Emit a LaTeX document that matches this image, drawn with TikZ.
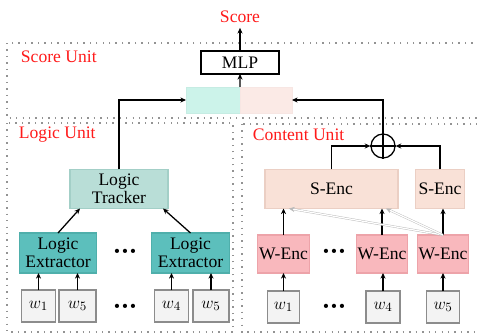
\documentclass[tikz,border=0pt]{standalone}
\usepackage{fontspec}
\setmainfont{Liberation Serif}
\usetikzlibrary{arrows.meta,calc}

\definecolor{unitred}{HTML}{FF1A1A}
\definecolor{trackerfill}{HTML}{B9DED7}
\definecolor{trackerline}{HTML}{A3CFC7}
\definecolor{extractfill}{HTML}{5CBFBC}
\definecolor{extractline}{HTML}{4FAFAB}
\definecolor{catleft}{HTML}{CCF3EA}
\definecolor{catright}{HTML}{FBEAE6}
\definecolor{sencfill}{HTML}{F9E1D7}
\definecolor{sencline}{HTML}{EBCFC4}
\definecolor{wencfill}{HTML}{F9B8BD}
\definecolor{wencline}{HTML}{EDA3A9}
\definecolor{wordfill}{HTML}{F3F3F3}
\definecolor{wordline}{HTML}{8C8C8C}

\tikzset{
  unitbox/.style={draw=gray!85, line width=1pt, dash pattern=on 1pt off 3.6pt},
  unitlabel/.style={text=unitred, anchor=west},
  block/.style={draw, inner sep=1pt, outer sep=0pt, align=center},
  wordbox/.style={block, draw=wordline, fill=wordfill, line width=1.3pt,
    minimum width=0.85cm, minimum height=0.8cm},
  flow/.style={->, line width=0.9pt},
  attend/.style={->, draw=gray!55, line width=0.3pt, double=white, double distance=0.9pt},
  moredots/.style={font=\fontsize{11}{11}\selectfont\bfseries}
}

\begin{document}
\begin{tikzpicture}[x=0.025cm, y=-0.025cm, >={Stealth[length=4pt,width=3.6pt]},
  font=\fontsize{12.5}{13}\selectfont]
  \useasboundingbox (0,0) rectangle (477,335);
  \clip (0,0) rectangle (477,335);

  %%%%% units %%%%%
  \draw[unitbox] (7,43) rectangle (485,118);
  \draw[unitbox] (7,123) rectangle (233,332);
  \draw[unitbox] (242,124) rectangle (485,332);
  \node[unitlabel] (scoreunit) at (16,57) {Score Unit};
  \node[unitlabel] (logicunit) at (14,135) {Logic Unit};
  \node[unitlabel] (contentunit) at (248,135) {Content Unit};

  %%%%% score unit %%%%%
  \node[text=unitred] (score) at (240,17) {Score};
  \node[block, line width=1pt, minimum width=1.95cm, minimum height=0.575cm] (mlp) at (240,62.5) {MLP};
  \node[block, draw=catleft!80!black!15!catleft, fill=catleft, minimum width=1.35cm, minimum height=0.65cm] (catl) at (213,100) {};
  \node[block, draw=catright!85!black!10!catright, fill=catright, minimum width=1.3cm, minimum height=0.65cm] (catr) at (266,100) {};

  %%%%% logic unit %%%%%
  \node[block, draw=trackerline, fill=trackerfill, line width=0.8pt, minimum width=2.45cm, minimum height=0.975cm] (tracker) at (119,189) {Logic\\Tracker};
  \node[block, draw=extractline, fill=extractfill, line width=0.8pt, minimum width=1.925cm, minimum height=1cm] (ext1) at (58,253) {Logic\\Extractor};
  \node[block, draw=extractline, fill=extractfill, line width=0.8pt, minimum width=1.95cm, minimum height=1cm] (ext2) at (190.5,253) {Logic\\Extractor};
  \node[moredots] (ldots1) at (125,253) {•\,•\,•};

  \node[wordbox] (lw1) at (38.5,306) {$w_1$};
  \node[wordbox, minimum width=0.925cm] (lw2) at (77.5,306) {$w_5$};
  \node[wordbox] (lw3) at (171.5,306) {$w_4$};
  \node[wordbox, minimum width=0.9cm] (lw4) at (211,306) {$w_5$};
  \node[moredots] (ldots2) at (125,308) {•\,•\,•};

  \draw[flow] (lw1) -- (lw1 |- ext1.south);
  \draw[flow] (lw2) -- (lw2 |- ext1.south);
  \draw[flow] (lw3) -- (lw3 |- ext2.south);
  \draw[flow] (lw4) -- (lw4 |- ext2.south);
  \draw[flow] (ext1.north) -- ([xshift=0.25cm]tracker.south west);
  \draw[flow] (ext2.north) -- ([xshift=-0.125cm]tracker.south east);

  %%%%% content unit %%%%%
  \node[block, draw=sencline, fill=sencfill, line width=0.8pt, minimum width=3.325cm, minimum height=0.975cm] (senc1) at (331.5,189) {S-Enc};
  \node[block, draw=sencline, fill=sencfill, line width=0.8pt, minimum width=1.225cm, minimum height=0.975cm] (senc2) at (440,189) {S-Enc};
  \node[draw, circle, line width=0.9pt, minimum size=0.6cm, inner sep=0pt] (plus) at (383,146) {};
  \draw[line width=0.9pt] (plus.north) -- (plus.south) (plus.west) -- (plus.east);

  \node[block, draw=wencline, fill=wencfill, line width=0.8pt, minimum width=1.275cm, minimum height=0.95cm] (wenc1) at (283.5,254) {W-Enc};
  \node[block, draw=wencline, fill=wencfill, line width=0.8pt, minimum width=1.25cm, minimum height=0.95cm] (wenc2) at (382,254) {W-Enc};
  \node[block, draw=wencline, fill=wencfill, line width=0.8pt, minimum width=1.25cm, minimum height=0.95cm] (wenc3) at (443,254) {W-Enc};
  \node[moredots] (cdots1) at (334,253) {•\,•\,•};

  \node[wordbox, minimum width=0.8cm] (cw1) at (283.5,307) {$w_1$};
  \node[wordbox] (cw4) at (383,307) {$w_4$};
  \node[wordbox, minimum width=0.825cm] (cw5) at (443,307) {$w_5$};
  \node[moredots] (cdots2) at (334,308) {•\,•\,•};

  \draw[flow] (cw1) -- (wenc1);
  \draw[flow] (cw4) -- (cw4 |- wenc2.south);
  \draw[flow] (cw5) -- (wenc3);
  \draw[flow] (wenc1) -- (wenc1 |- senc1.south);
  \draw[flow] (wenc2) -- (wenc2 |- senc1.south);
  \draw[flow] (wenc3) -- (wenc3 |- senc2.south);
  \draw[attend] (wenc3.north) -- ([xshift=0.6cm]senc1.south west);
  \draw[attend] (wenc3.north) -- ([xshift=-0.3cm]senc1.south east);

  \draw[flow] (senc1.north) |- (plus.west);
  \draw[flow] (senc2.north) |- (plus.east);

  %%%%% into the score unit %%%%%
  \draw[flow] (tracker.north) |- (catl.west);
  \draw[flow] (plus.north) |- (catr.east);
  \draw[flow] (catl.north east) -- (mlp.south);
  \draw[flow] (mlp.north) -- (score.south);
\end{tikzpicture}
\end{document}
